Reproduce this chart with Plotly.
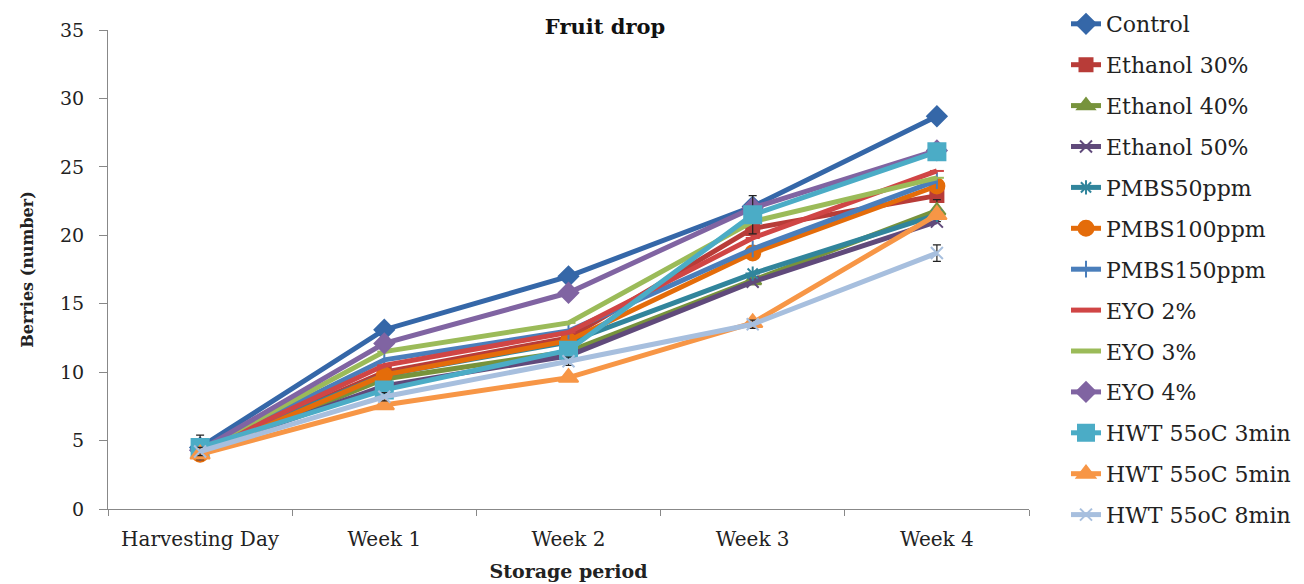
import plotly.graph_objects as go

categories = ["Harvesting Day", "Week 1", "Week 2", "Week 3", "Week 4"]

series_names = ["Control", "Ethanol 30%", "Ethanol 40%", "Ethanol 50%", "PMBS50ppm",
                "PMBS100ppm", "PMBS150ppm", "EYO 2%", "EYO 3%", "EYO 4%",
                "HWT 55oC 3min", "HWT 55oC 5min", "HWT 55oC 8min"]

control = [4.5, 13.1, 17.0, 22.1, 28.7]
ethanol30 = [4.2, 10.0, 12.5, 20.5, 22.9]
ethanol40 = [4.1, 9.5, 11.5, 16.7, 21.8]
ethanol50 = [4.2, 9.0, 11.2, 16.6, 21.0]
pmbs50 = [4.3, 9.8, 12.2, 17.2, 21.5]
pmbs100 = [4.0, 9.8, 12.3, 18.7, 23.6]
pmbs150 = [4.3, 10.9, 13.0, 19.0, 24.0]
eyo2 = [4.2, 10.5, 12.9, 19.8, 24.7]
eyo3 = [4.3, 11.5, 13.6, 21.0, 24.2]
eyo4 = [4.3, 12.1, 15.8, 22.0, 26.2]
hwt3 = [4.5, 8.7, 11.6, 21.5, 26.1]
hwt5 = [4.0, 7.6, 9.6, 13.6, 21.5]
hwt8 = [4.2, 8.2, 10.8, 13.5, 18.7]

values = [control, ethanol30, ethanol40, ethanol50, pmbs50, pmbs100, pmbs150,
          eyo2, eyo3, eyo4, hwt3, hwt5, hwt8]

# error bars (only those that are visible in the original)
err_hwt3 = [0.9, 0.4, 0.4, 1.4, 0.5]
err_hwt8 = [0.3, 0.3, 0.3, 0.3, 0.6]
err_eth40 = [0.3, 0.3, 0.3, 0.3, 0.8]
errors = {"HWT 55oC 3min": err_hwt3, "HWT 55oC 8min": err_hwt8, "Ethanol 40%": err_eth40}

colors = ["#3567A8", "#B83C38", "#77933C", "#604A7B", "#31859C", "#E46C0A",
          "#4A7EBB", "#D04545", "#9BBB59", "#8064A2", "#4BACC6", "#F79646", "#A7BFDE"]
symbols = ["diamond", "square", "triangle-up", "x-thin-open", "asterisk-open", "circle",
           "line-ns-open", "line-ew-open", "line-ew-open", "diamond", "square",
           "triangle-up", "x-thin-open"]
sizes = [15, 13, 15, 12, 12, 15, 12, 10, 10, 15, 17, 17, 12]

fig = go.Figure()
for i, (name, vals) in enumerate(zip(series_names, values)):
    err = errors.get(name)
    fig.add_trace(go.Scatter(
        x=categories, y=vals, name=name, mode="lines+markers",
        line=dict(color=colors[i], width=5),
        marker=dict(symbol=symbols[i], size=sizes[i], color=colors[i],
                    line=dict(color=colors[i], width=2)),
        error_y=dict(type="data", array=err, visible=True, color="#222222",
                     thickness=1.2, width=4) if err else None,
        legendgroup=name,
    ))

serif = "DejaVu Serif, Liberation Serif, serif"
W, H = 1304, 584
OFF = 8  # default page body margin
fig.update_layout(
    width=W, height=H,
    paper_bgcolor="white", plot_bgcolor="white",
    margin=dict(l=108 - OFF, r=W - 1029 + OFF, t=30 - OFF, b=H - 509 + OFF, autoexpand=False),
    font=dict(family=serif, size=16, color="#222222"),
    title=dict(text="<b>Fruit drop</b>", x=(605 - OFF) / W, xanchor="center",
               y=1 - (27 - OFF) / H, yanchor="middle",
               font=dict(size=21, family=serif, color="#111111")),
    showlegend=True,
    legend=dict(x=(1066 - 108) / 921, xanchor="left", y=1.0 + 27 / 479, yanchor="top",
                font=dict(size=22, family=serif, color="#222222"),
                tracegroupgap=9.3, traceorder="grouped", maxheight=580,
                bgcolor="rgba(0,0,0,0)"),
    xaxis=dict(type="category", range=[-0.5, 4.5], showline=True, linecolor="#888888",
               linewidth=1, ticks="outside", tickson="boundaries", ticklen=6,
               tickcolor="#888888", showgrid=False, zeroline=False,
               ticklabelstandoff=12,
               tickfont=dict(size=20, family=serif),
               title=dict(text="<b>Storage period</b>", font=dict(size=19, family=serif), standoff=14)),
    yaxis=dict(range=[0, 35], dtick=5, showline=True, linecolor="#888888", linewidth=1,
               ticks="outside", ticklen=8, tickcolor="#888888", showgrid=False, zeroline=False,
               ticklabelstandoff=11,
               tickfont=dict(size=19, family=serif),
               title=dict(text="<b>Berries (number)</b>", font=dict(size=16, family=serif), standoff=22)),
)

fig.write_html("out.html")
